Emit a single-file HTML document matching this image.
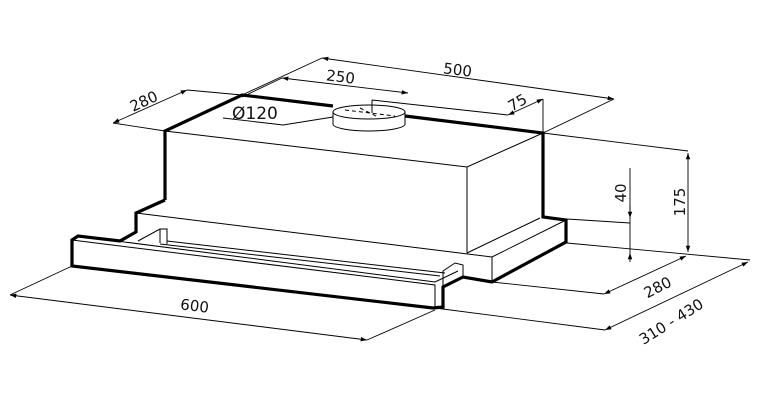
<!DOCTYPE html>
<html><head><meta charset="utf-8"><style>html,body{margin:0;padding:0;background:#fff}svg{display:block}text{font-family:"DejaVu Sans","Liberation Sans",sans-serif;font-size:15px;fill:#111}</style></head><body>
<svg width="760" height="400" viewBox="0 0 760 400" xmlns="http://www.w3.org/2000/svg">
<defs><marker id="a" viewBox="0 0 10 10" refX="10" refY="5" markerWidth="7" markerHeight="7" orient="auto-start-reverse"><path d="M0,1.5 L10,5 L0,8.5z" fill="#000"/></marker></defs>
<g fill="none" stroke="#000" stroke-linejoin="miter">
<g stroke-width="1">
<path d="M165,131 L467,167 L543,133 M467,167 L467,253"/>
<path d="M136,213 L492,257 L566,220 M467,253 L540,218 M492,257 L492,282"/>
<path d="M78,236 L435,282 L458,271 M72,240 L435,285 L435,308"/>
<path d="M138,241 L160,229 L167,229 L167,244 M160,229 L160,243"/>
<path d="M160,244 L440,276 M167,241 L445,273"/>
<path d="M443,286 L443,271 L455,263 L463,265 L463,277"/>
<ellipse cx="369" cy="112" rx="36" ry="7" fill="#fff"/>
<path d="M333,112 L333,124 A36,7 0 0 0 405,124 L405,112"/>
<path d="M345,110 L395,116 M360,108 L378,117" stroke-dasharray="4,3"/>
<path d="M372,100 L372,113 M372,100 L508,115"/>
</g>
<g stroke-width="3.2">
<path d="M165,200 L165,131 L242,95 L333,106 M405,116 L543,133 L543,217 L566,220 L566,242 L492,282 L463,277 L443,287 L443,307 L433,308 L72,266 L72,240 L78,236 L120,241 L136,232 L136,213 L165,200"/>
</g>
<g stroke-width="0.9">
<path d="M113,123 L165,131 M187,90 L242,95 M242,95 L322,58 M543,133 L614,99 M242,97 L282,78"/>
<path d="M113,123 L187,90" marker-start="url(#a)" marker-end="url(#a)"/>
<path d="M322,58 L614,99" marker-start="url(#a)" marker-end="url(#a)"/>
<path d="M282,78 L408,93" marker-start="url(#a)" marker-end="url(#a)"/>
<path d="M508,115 L543,99" marker-start="url(#a)" marker-end="url(#a)"/>
<path d="M543,99 L543,133"/>
<path d="M223,118 L283,125 L333,117"/>
<path d="M543,133 L688,151 M567,219 L630,223 M567,243 L750,260 M630,168 L630,253"/>
<path d="M688,153 L688,252" marker-start="url(#a)" marker-end="url(#a)"/>
<path d="M630,205 L630,218" marker-end="url(#a)"/>
<path d="M630,262 L630,253" marker-end="url(#a)"/>
<path d="M492,282 L604,294 M435,308 L605,330 M72,266 L10,295 M435,310 L367,340"/>
<path d="M604,294 L686,256" marker-start="url(#a)" marker-end="url(#a)"/>
<path d="M605,330 L748,262" marker-start="url(#a)" marker-end="url(#a)"/>
<path d="M10,295 L367,340" marker-start="url(#a)" marker-end="url(#a)"/>
</g>
</g>
<text transform="translate(146,106) rotate(-25)" text-anchor="middle">280</text>
<text transform="translate(457,75) rotate(7)" text-anchor="middle">500</text>
<text transform="translate(340,82) rotate(7)" text-anchor="middle">250</text>
<text transform="translate(520,107) rotate(-30)" text-anchor="middle">75</text>
<text x="232" y="119" style="font-size:17px">Ø120</text>
<text transform="translate(685,202) rotate(-90)" text-anchor="middle">175</text>
<text transform="translate(626,193) rotate(-90)" text-anchor="middle">40</text>
<text transform="translate(660,292) rotate(-27)" text-anchor="middle">280</text>
<text transform="translate(674,326) rotate(-32)" text-anchor="middle">310 - 430</text>
<text transform="translate(194,311) rotate(7)" text-anchor="middle">600</text>
</svg>
</body></html>
